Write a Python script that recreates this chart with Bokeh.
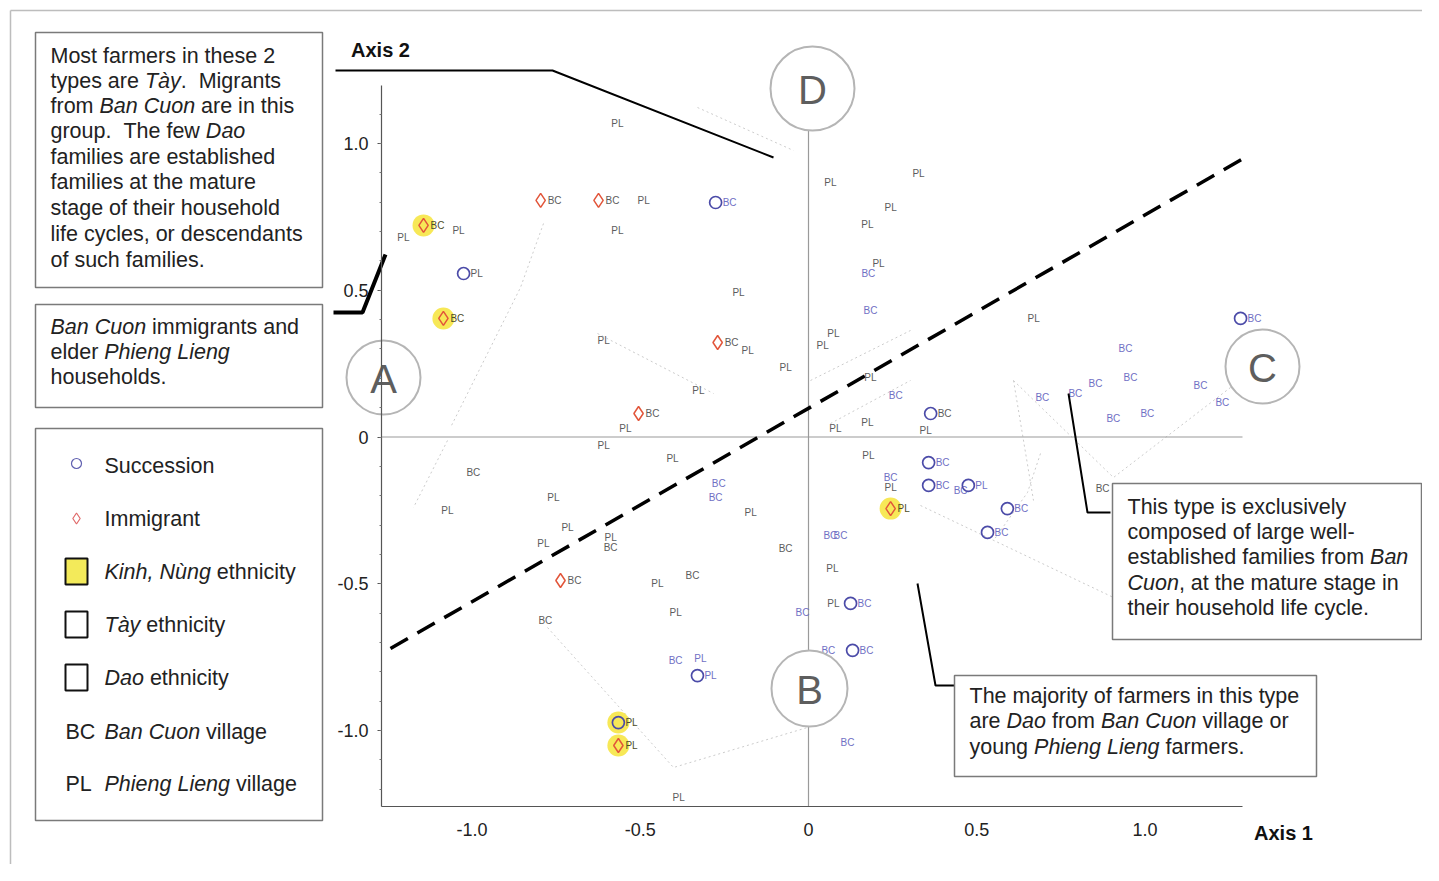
from collections import defaultdict
from bokeh.plotting import figure
from bokeh.models import Range1d, FixedTicker, ColumnDataSource
from bokeh.core.properties import value
from bokeh.embed import file_html
from bokeh.resources import INLINE

# ---------------- data (correspondence-analysis scores) ----------------
# households shown only by their village code (no migration marker)
lab_x = [-0.568, -0.490, -1.040, -0.568, -0.609, -0.181, -0.068, -0.327, -0.208, -0.544,
         -1.204, 0.065, 0.327, 0.244, 0.175, 0.208, 0.178, 0.184, 0.074, 0.042,
         0.184, 0.259, 0.080, 0.175, 0.348, 0.669, 0.942, 0.957, 0.853, 0.695,
         0.793, 0.906, 1.007, 1.165, 1.230, 0.874, -0.609, -0.996, -0.404, -0.758,
         -1.073, -0.267, -0.276, -0.172, -0.716, -0.788, -0.588, -0.588, -0.068, -0.345,
         -0.449, -0.395, -0.782, -0.018, -0.395, -0.321, -0.386, 0.178, 0.244, 0.244,
         0.065, 0.095, 0.071, 0.074, 0.116, 0.059, 0.452]
lab_y = [1.068, 0.806, 0.704, 0.704, 0.329, 0.295, 0.237, 0.158, 0.492, 0.029,
         0.680, 0.867, 0.898, 0.782, 0.724, 0.591, 0.557, 0.431, 0.353, 0.312,
         0.203, 0.141, 0.029, 0.049, 0.022, 0.404, 0.302, 0.203, 0.182, 0.135,
         0.148, 0.063, 0.080, 0.175, 0.118, -0.175, -0.029, -0.121, -0.073, -0.206,
         -0.250, -0.158, -0.206, -0.257, -0.308, -0.363, -0.342, -0.376, -0.380, -0.472,
         -0.499, -0.598, -0.625, -0.598, -0.761, -0.755, -1.228, -0.063, -0.138, -0.172,
         -0.336, -0.336, -0.448, -0.567, -1.041, -0.727, -0.182]
lab_village = ["PL", "PL", "PL", "PL", "PL", "PL", "PL", "PL", "PL", "PL",
               "PL", "PL", "PL", "PL", "PL", "PL", "BC", "BC", "PL", "PL",
               "PL", "BC", "PL", "PL", "PL", "PL", "BC", "BC", "BC", "BC",
               "BC", "BC", "BC", "BC", "BC", "BC", "PL", "BC", "PL", "PL",
               "PL", "BC", "BC", "PL", "PL", "PL", "PL", "BC", "BC", "BC",
               "PL", "PL", "BC", "BC", "BC", "PL", "PL", "PL", "BC", "PL",
               "BC", "BC", "PL", "PL", "BC", "BC", "BC"]
lab_eth = ["Tay", "Tay", "Tay", "Tay", "Tay", "Tay", "Tay", "Tay", "Tay", "Tay",
           "Tay", "Tay", "Tay", "Tay", "Tay", "Tay", "Dao", "Dao", "Tay", "Tay",
           "Tay", "Dao", "Tay", "Tay", "Tay", "Tay", "Dao", "Dao", "Dao", "Dao",
           "Dao", "Dao", "Dao", "Dao", "Dao", "Tay", "Tay", "Tay", "Tay", "Tay",
           "Tay", "Dao", "Dao", "Tay", "Tay", "Tay", "Tay", "Tay", "Tay", "Tay",
           "Tay", "Tay", "Tay", "Dao", "Dao", "Dao", "Tay", "Tay", "Dao", "Tay",
           "Dao", "Dao", "Tay", "Tay", "Dao", "Dao", "Dao"]

# households with a migration-status marker
mk_x = [-0.796, -0.624, -1.144, -1.085, -0.270, -0.505, -0.737, -0.565, 0.244,
        -0.276, -1.025, 0.363, 1.284, 0.357, 0.357, 0.475, 0.591, 0.532, 0.125,
        0.131, -0.330, -0.565]
mk_y = [0.806, 0.806, 0.721, 0.404, 0.322, 0.080, -0.489, -1.051, -0.244,
        0.799, 0.557, 0.080, 0.404, -0.087, -0.165, -0.165, -0.244, -0.325, -0.567,
        -0.727, -0.813, -0.973]
mk_status = ["Immigrant"] * 9 + ["Succession"] * 13
mk_village = ["BC", "BC", "BC", "BC", "BC", "BC", "BC", "PL", "PL",
              "BC", "PL", "BC", "BC", "BC", "BC", "PL", "BC", "BC", "BC",
              "BC", "PL", "PL"]
mk_eth = ["Tay", "Tay", "Kinh", "Kinh", "Tay", "Tay", "Tay", "Kinh", "Kinh",
          "Dao", "Tay", "Tay", "Dao", "Dao", "Dao", "Dao", "Dao", "Dao", "Dao",
          "Dao", "Dao", "Kinh"]

x_ticks = [-1.0, -0.5, 0.0, 0.5, 1.0]
x_tick_labels = ["-1.0", "-0.5", "0", "0.5", "1.0"]
y_ticks = [-1.0, -0.5, 0.0, 0.5, 1.0]
y_tick_labels = ["-1.0", "-0.5", "0", "0.5", "1.0"]

ETH_LABEL_COLOR = {"Tay": "#5c5c5c", "Dao": "#7070c4", "Kinh": "#4d4d2a"}

# ---------------- page geometry ----------------
W, H = 1422, 864
SX, SY = 336.5, 293.5      # px per unit on the page
OX, OY = 808.0, 436.5      # page position of the origin


def X(px):
    return (px - OX) / SX


def Y(py):
    return (OY - py) / SY


p = figure(width=W, height=H, x_range=Range1d(X(0), X(W)), y_range=Range1d(Y(H), Y(0)),
           output_backend="svg", toolbar_location=None, min_border=0,
           background_fill_color="white", border_fill_color="white")
p.title.visible = False
p.grid.visible = False
p.outline_line_color = None

FONT = "Liberation Sans"
for ax in (p.xaxis[0], p.yaxis[0]):
    ax.axis_line_color = "#555555"
    ax.axis_line_width = 1.2
    ax.major_tick_line_color = "#555555"
    ax.minor_tick_line_color = "#777777"
    ax.major_label_text_font = FONT
    ax.major_label_text_font_size = "18px"
    ax.major_label_text_color = "#222222"

p.xaxis.fixed_location = Y(806)
p.yaxis.fixed_location = X(381)
p.xaxis.bounds = (X(381), X(1242))
p.yaxis.bounds = (Y(806), Y(85))
p.xaxis.ticker = FixedTicker(ticks=x_ticks)
p.yaxis.ticker = FixedTicker(ticks=y_ticks, minor_ticks=[v / 10 for v in range(-12, 12)])
p.xaxis.major_label_overrides = dict(zip(x_ticks, x_tick_labels))
p.yaxis.major_label_overrides = dict(zip(y_ticks, y_tick_labels))
p.xaxis.major_tick_out = 0
p.xaxis.major_tick_in = 0
p.xaxis.minor_tick_out = 0
p.xaxis.minor_tick_in = 0
p.xaxis.major_label_standoff = 16
p.yaxis.major_tick_out = 4
p.yaxis.major_tick_in = 0
p.yaxis.minor_tick_out = 2
p.yaxis.minor_tick_in = 0
p.yaxis.major_label_standoff = 9

# page border of the scanned figure
p.multi_line(xs=[[X(10), X(1439)], [X(10), X(10)]], ys=[[Y(10), Y(10)], [Y(10), Y(881)]],
             line_color="#bdbdbd", line_width=1.5)

# faint dotted cluster outlines
hulls = [[(697, 107), (793, 150)],
         [(543, 223), (520, 287), (450, 427)],
         [(447, 440), (413, 507)],
         [(547, 627), (673, 767), (807, 727)],
         [(1013, 380), (1113, 477), (1230, 387)],
         [(1013, 380), (1033, 500)],
         [(1040, 453), (1027, 492), (993, 540)],
         [(920, 505), (1113, 597)],
         [(810, 380), (910, 330)],
         [(830, 423), (910, 380)],
         [(597, 333), (713, 393)]]
p.multi_line(xs=[[X(a) for a, b in h] for h in hulls], ys=[[Y(b) for a, b in h] for h in hulls],
             line_color="#cccccc", line_width=1, line_dash="2 3")

# origin reference lines
p.segment(x0=[0, X(381)], y0=[Y(806), 0], x1=[0, X(1242)], y1=[Y(88), 0],
          line_color="#9a9a9a", line_width=1.2)

# dividing dashed line
p.line(x=[X(390), X(1248)], y=[Y(648), Y(155)], line_color="black", line_width=3.5, line_dash="20 11")

# ---------------- points ----------------
kx = [x for x, e in zip(mk_x, mk_eth) if e == "Kinh"]
ky = [y for y, e in zip(mk_y, mk_eth) if e == "Kinh"]
p.scatter(kx, ky, marker="circle", size=22, fill_color="#f6e43a", fill_alpha=0.85, line_color=None)

src_lab = ColumnDataSource(dict(x=lab_x, y=lab_y, t=lab_village,
                                c=[ETH_LABEL_COLOR[e] for e in lab_eth]))
p.text(x="x", y="y", text="t", source=src_lab, text_color="c", text_font=value(FONT),
       text_font_size="10px", text_align="center", text_baseline="middle")

src_mk = ColumnDataSource(dict(x=mk_x, y=mk_y, t=mk_village,
                               c=[ETH_LABEL_COLOR[e] for e in mk_eth]))
p.text(x="x", y="y", text="t", source=src_mk, text_color="c", text_font=value(FONT),
       text_font_size="10px", text_align="left", text_baseline="middle", x_offset=7)

sx = [x for x, s in zip(mk_x, mk_status) if s == "Succession"]
sy = [y for y, s in zip(mk_y, mk_status) if s == "Succession"]
ix = [x for x, s in zip(mk_x, mk_status) if s == "Immigrant"]
iy = [y for y, s in zip(mk_y, mk_status) if s == "Immigrant"]
p.scatter(sx, sy, marker="circle", size=12, fill_color=None, line_color="#4b4ba8", line_width=1.7)
p.scatter(ix, iy, marker="diamond", size=14, fill_color=None, line_color="#e2553a", line_width=1.5)

# ---------------- type circles ----------------
type_names = ["A", "B", "C", "D"]
type_px = [(383, 377, 74), (809, 688, 76), (1262, 366, 74), (812, 88, 84)]
p.scatter([X(a) for a, b, d in type_px], [Y(b) for a, b, d in type_px], marker="circle",
          size=[d for a, b, d in type_px], fill_color="white", line_color="#b5b5b5", line_width=2)

# ---------------- annotation leader lines ----------------
leaders = [[(335, 70), (552, 70), (773, 157)],
           [(1068, 393), (1087, 512), (1110, 512)],
           [(917, 583), (935, 685), (954, 685)]]
p.multi_line(xs=[[X(a) for a, b in h] for h in leaders], ys=[[Y(b) for a, b in h] for h in leaders],
             line_color="black", line_width=2)
p.line(x=[X(333), X(362), X(385)], y=[Y(312), Y(312), Y(254)], line_color="black", line_width=4)

# ---------------- text boxes ----------------
boxes = [(35, 32, 322, 287), (35, 304, 322, 407), (35, 428, 322, 820),
         (1112, 483, 1421, 639), (954, 675, 1316, 776)]
p.quad(left=[X(b[0]) for b in boxes], right=[X(b[2]) for b in boxes],
       top=[Y(b[1]) for b in boxes], bottom=[Y(b[3]) for b in boxes],
       fill_color="white", line_color="#7a7a7a", line_width=1.5)

# legend symbols
p.scatter([X(76)], [Y(463)], marker="circle", size=10, fill_color=None, line_color="#6060b0", line_width=1.2)
p.scatter([X(76)], [Y(518)], marker="diamond", size=11, fill_color=None, line_color="#e06a6a", line_width=1.2)
sq = [(65, 558, 87, 584, "#f3ea5a"), (65, 611, 87, 637, "white"), (65, 664, 87, 690, "white")]
p.quad(left=[X(s[0]) for s in sq], right=[X(s[2]) for s in sq], top=[Y(s[1]) for s in sq],
       bottom=[Y(s[3]) for s in sq], fill_color=[s[4] for s in sq], line_color="#111111", line_width=2)

# ---------------- texts ----------------
CW = {' ': 278, '.': 278, ',': 278, '-': 333, ':': 278, 'à': 556, 'ù': 556}
CW.update({c: w for c, w in zip("abcdefghijklmnopqrstuvwxyz",
                                [556, 556, 500, 556, 556, 278, 556, 556, 222, 222, 500, 222, 833,
                                 556, 556, 556, 556, 333, 500, 278, 556, 500, 722, 500, 500, 500])})
CW.update({c: w for c, w in zip("ABCDEFGHIJKLMNOPQRSTUVWXYZ",
                                [667, 667, 722, 722, 667, 611, 778, 722, 278, 500, 667, 556, 833,
                                 722, 778, 667, 778, 722, 667, 611, 722, 667, 944, 667, 667, 611])})
for d in "0123456789":
    CW[d] = 556


def tw(s, size):
    return sum(CW.get(ch, 556) for ch in s) / 1000.0 * size


groups = defaultdict(lambda: {"x": [], "y": [], "text": []})


def put(px, py, s, size=21.5, style="normal", color="#222222", align="left"):
    g = groups[(size, style, color, align)]
    g["x"].append(X(px))
    g["y"].append(Y(py))
    g["text"].append(s)


def runs(px, py, parts, size=21.5):
    cx = px
    for s, it in parts:
        lead = len(s) - len(s.lstrip(" "))
        core = s.strip(" ")
        if core:
            put(cx + tw(" " * lead, size), py, core, size, "italic" if it else "normal")
        cx += tw(s, size)


N, I = False, True
box1 = [[("Most farmers in these 2", N)],
        [("types are ", N), ("Tày", I), (".", N), ("  Migrants", N)],
        [("from ", N), ("Ban Cuon", I), (" are in this", N)],
        [("group.", N), ("  The few ", N), ("Dao", I)],
        [("families are established", N)],
        [("families at the mature", N)],
        [("stage of their household", N)],
        [("life cycles, or descendants", N)],
        [("of such families.", N)]]
for line, py in zip(box1, [55, 80, 105, 130, 156, 181, 207, 233, 259]):
    runs(50, py, line)

box2 = [[("Ban Cuon", I), (" immigrants and", N)],
        [("elder ", N), ("Phieng Lieng", I)],
        [("households.", N)]]
for line, py in zip(box2, [326, 351, 376]):
    runs(50, py, line)

legend = [[("Succession", N)], [("Immigrant", N)],
          [("Kinh, Nùng", I), (" ethnicity", N)],
          [("Tày", I), (" ethnicity", N)],
          [("Dao", I), (" ethnicity", N)],
          [("Ban Cuon", I), (" village", N)],
          [("Phieng Lieng", I), (" village", N)]]
for line, py in zip(legend, [465, 518, 571, 624, 677, 731, 783]):
    runs(104, py, line)
put(65, 731, "BC")
put(65, 783, "PL")

box4 = [[("This type is exclusively", N)],
        [("composed of large well-", N)],
        [("established families from ", N), ("Ban", I)],
        [("Cuon", I), (", at the mature stage in", N)],
        [("their household life cycle.", N)]]
for line, py in zip(box4, [506, 531, 556, 582, 607]):
    runs(1127, py, line)

box5 = [[("The majority of farmers in this type", N)],
        [("are ", N), ("Dao", I), (" from ", N), ("Ban Cuon", I), (" village or", N)],
        [("young ", N), ("Phieng Lieng", I), (" farmers.", N)]]
for line, py in zip(box5, [695, 720, 746]):
    runs(969, py, line)

put(380, 49, "Axis 2", 20, "bold", "#111111", "center")
put(1283, 832, "Axis 1", 20, "bold", "#111111", "center")
for name, (a, b, d) in zip(type_names, type_px):
    put(a, b + 1, name, 40, "normal", "#5e5e5e", "center")

for (size, style, color, align), g in groups.items():
    p.text(x="x", y="y", text="text", source=ColumnDataSource(g), text_font=value(FONT),
           text_font_size=f"{size}px", text_font_style=style, text_color=color,
           text_align=align, text_baseline="middle")

open("out.html", "w").write(file_html(p, INLINE))
